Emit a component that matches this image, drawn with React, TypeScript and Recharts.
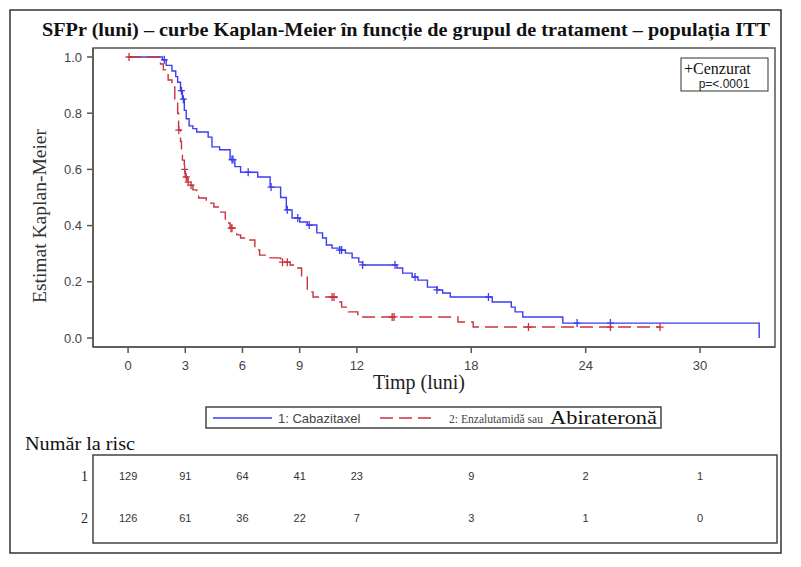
import React from 'react';
import { ComposedChart, Line, Scatter, XAxis, YAxis } from 'recharts';

const xTicks = [0, 3, 6, 9, 12, 18, 24, 30];
const yTicks = [0, 0.2, 0.4, 0.6, 0.8, 1.0];

// Cabazitaxel KM steps (months, survival)
const cabaTimes = [0, 1.8, 2.0, 2.3, 2.5, 2.6, 2.75, 2.85, 2.95, 3.05, 3.2, 3.4, 3.6, 4.2, 4.4, 4.8, 5.35, 5.6, 5.9, 6.8, 7.45, 8.0, 8.3, 8.6, 9.0, 9.4, 9.9, 10.2, 10.4, 10.7, 11.1, 11.4, 11.75, 12.1, 12.3, 14.1, 14.4, 14.9, 15.2, 15.7, 16.2, 16.5, 16.9, 19.1, 20.1, 20.3, 20.7, 22.8, 33.1];
const cabaSurv = [1.0, 0.99, 0.97, 0.95, 0.93, 0.91, 0.88, 0.85, 0.81, 0.78, 0.755, 0.745, 0.733, 0.715, 0.68, 0.67, 0.635, 0.61, 0.59, 0.573, 0.537, 0.5, 0.456, 0.427, 0.413, 0.402, 0.374, 0.356, 0.331, 0.32, 0.313, 0.302, 0.285, 0.27, 0.26, 0.249, 0.231, 0.217, 0.206, 0.181, 0.171, 0.16, 0.146, 0.128, 0.11, 0.093, 0.075, 0.053, 0];
const cabaCensorTimes = [1.9, 2.8, 2.9, 5.45, 5.5, 6.3, 7.5, 8.35, 8.9, 9.5, 11.1, 11.2, 12.3, 14.0, 15.05, 16.2, 18.9, 23.55, 25.3];
const cabaCensorSurv = [0.99, 0.88, 0.85, 0.635, 0.635, 0.59, 0.537, 0.456, 0.427, 0.402, 0.313, 0.313, 0.26, 0.26, 0.217, 0.171, 0.146, 0.053, 0.053];

// Enzalutamida / Abiraterona KM steps
const enzaTimes = [0, 1.7, 1.85, 2.1, 2.3, 2.45, 2.6, 2.65, 2.75, 2.8, 2.85, 2.95, 3.0, 3.1, 3.25, 3.4, 3.6, 3.7, 4.1, 4.5, 4.8, 5.1, 5.35, 5.7, 5.9, 6.3, 6.65, 6.9, 7.45, 8.0, 8.5, 8.9, 9.1, 9.4, 9.7, 10.95, 11.2, 11.55, 12.05, 17.3, 18.1, 27.9];
const enzaSurv = [1.0, 0.975, 0.954, 0.918, 0.893, 0.85, 0.8, 0.74, 0.7, 0.669, 0.633, 0.6, 0.573, 0.555, 0.544, 0.527, 0.51, 0.498, 0.48, 0.466, 0.448, 0.409, 0.391, 0.367, 0.356, 0.349, 0.313, 0.295, 0.285, 0.27, 0.26, 0.249, 0.217, 0.164, 0.146, 0.128, 0.11, 0.093, 0.075, 0.057, 0.039, 0.039];
const enzaCensorTimes = [0.05, 2.66, 2.97, 3.05, 3.15, 3.3, 5.4, 5.45, 8.1, 8.35, 10.7, 10.8, 13.85, 13.95, 21.0, 25.3, 27.9];
const enzaCensorSurv = [1.0, 0.74, 0.6, 0.573, 0.555, 0.544, 0.391, 0.391, 0.27, 0.27, 0.146, 0.146, 0.075, 0.075, 0.039, 0.039, 0.039];

// number at risk
const riskTimes = [0, 3, 6, 9, 12, 18, 24, 30];
const riskCaba = [129, 91, 64, 41, 23, 9, 2, 1];
const riskEnza = [126, 61, 36, 22, 7, 3, 1, 0];

const BLUE = '#3c3cf0';
const RED = '#c8323c';
const SERIF = '"Liberation Serif", "Times New Roman", serif';
const SANS = '"Liberation Sans", Arial, sans-serif';

const cabaData = cabaTimes.map((t, i) => ({ t, s: cabaSurv[i] }));
const enzaData = enzaTimes.map((t, i) => ({ t, s: enzaSurv[i] }));
const cabaCens = cabaCensorTimes.map((t, i) => ({ t, s: cabaCensorSurv[i] }));
const enzaCens = enzaCensorTimes.map((t, i) => ({ t, s: enzaCensorSurv[i] }));

// plot geometry (used for the risk table columns)
const X0 = 93;
const PLOT_W = 682;
const X_DOMAIN: [number, number] = [-1.84, 33.93];
const toPx = (t: number) => X0 + ((t - X_DOMAIN[0]) / (X_DOMAIN[1] - X_DOMAIN[0])) * PLOT_W;

const plus = (color: string) => (props: any) => {
  const { cx, cy } = props;
  if (cx == null || cy == null) return <g />;
  return (
    <path
      d={`M${cx - 3.5},${cy}h7M${cx},${cy - 4}v8`}
      stroke={color}
      strokeWidth={1.3}
      fill="none"
    />
  );
};

export default function App() {
  const axisStroke = '#555';
  const tick = { fill: '#444', fontSize: 13, fontFamily: SANS };
  return (
    <div style={{ position: 'absolute', left: 0, top: 0, width: 801, height: 567, background: '#fff' }}>
      <ComposedChart width={801} height={400} margin={{ top: 48, right: 26, left: 33, bottom: 23 }}>
        <XAxis
          dataKey="t"
          type="number"
          domain={X_DOMAIN}
          allowDataOverflow
          ticks={xTicks}
          interval={0}
          tick={tick}
          tickSize={6}
          tickMargin={8}
          height={30}
          axisLine={{ stroke: axisStroke, strokeWidth: 1.5 }}
          tickLine={{ stroke: axisStroke, strokeWidth: 1.5 }}
        />
        <YAxis
          dataKey="s"
          type="number"
          domain={[-0.032, 1.032]}
          allowDataOverflow
          ticks={yTicks}
          interval={0}
          width={60}
          tick={tick}
          tickSize={6}
          tickMargin={5}
          tickFormatter={(v: number) => v.toFixed(1)}
          axisLine={{ stroke: axisStroke, strokeWidth: 1.5 }}
          tickLine={{ stroke: axisStroke, strokeWidth: 1.5 }}
        />
        <Line
          data={cabaData}
          dataKey="s"
          type="stepAfter"
          stroke={BLUE}
          strokeWidth={1.4}
          dot={false}
          activeDot={false}
          isAnimationActive={false}
        />
        <Line
          data={enzaData}
          dataKey="s"
          type="stepAfter"
          stroke={RED}
          strokeWidth={1.4}
          strokeDasharray="13 6"
          dot={false}
          activeDot={false}
          isAnimationActive={false}
        />
        <Scatter data={cabaCens} dataKey="s" shape={plus(BLUE)} isAnimationActive={false} />
        <Scatter data={enzaCens} dataKey="s" shape={plus(RED)} isAnimationActive={false} />
      </ComposedChart>

      <svg
        width={801}
        height={567}
        style={{ position: 'absolute', left: 0, top: 0, pointerEvents: 'none' }}
      >
        {/* outer frame */}
        <rect x={10} y={10} width={771} height={543} fill="none" stroke="#333" strokeWidth={1.5} />
        <text
          x={406}
          y={36}
          textAnchor="middle"
          fontFamily={SERIF}
          fontWeight="bold"
          fontSize={19}
          fill="#111"
          textLength={728}
          lengthAdjust="spacingAndGlyphs"
        >
          SFPr (luni) – curbe Kaplan-Meier în funcție de grupul de tratament – populația ITT
        </text>

        {/* plot box */}
        <rect x={93} y={48} width={682} height={299} fill="none" stroke={axisStroke} strokeWidth={1.5} />

        {/* censor legend */}
        <rect x={681} y={58} width={87} height={33} fill="#fff" stroke="#333" strokeWidth={1} />
        <text x={684} y={74} fontFamily={SERIF} fontSize={16} fill="#111">+Cenzurat</text>
        <text x={724} y={88} textAnchor="middle" fontFamily={SANS} fontSize={12} fill="#222">p=&lt;.0001</text>

        {/* axis titles */}
        <text
          x={0}
          y={0}
          transform="translate(46,216) rotate(-90)"
          textAnchor="middle"
          fontFamily={SERIF}
          fontSize={19}
          fill="#333"
          textLength={174}
          lengthAdjust="spacingAndGlyphs"
        >
          Estimat Kaplan-Meier
        </text>
        <text
          x={419}
          y={389}
          textAnchor="middle"
          fontFamily={SERIF}
          fontSize={20}
          fill="#222"
          textLength={92}
          lengthAdjust="spacingAndGlyphs"
        >
          Timp (luni)
        </text>

        {/* series legend */}
        <rect x={206} y={407} width={455} height={21} fill="none" stroke="#444" strokeWidth={1.5} />
        <line x1={213} y1={418} x2={272} y2={418} stroke={BLUE} strokeWidth={1.4} />
        <text x={278} y={423} fontFamily={SANS} fontSize={13} fill="#444">1: Cabazitaxel</text>
        <line x1={380} y1={418} x2={437} y2={418} stroke={RED} strokeWidth={1.4} strokeDasharray="13 6" />
        <text
          x={449}
          y={423}
          fontFamily={SERIF}
          fontSize={12.5}
          fill="#444"
          textLength={94}
          lengthAdjust="spacingAndGlyphs"
        >
          2: Enzalutamidă sau
        </text>
        <text
          x={550}
          y={424}
          fontFamily={SERIF}
          fontSize={18}
          fill="#111"
          textLength={107}
          lengthAdjust="spacingAndGlyphs"
        >
          Abirateronă
        </text>

        {/* number at risk */}
        <text
          x={25}
          y={450}
          fontFamily={SERIF}
          fontSize={18}
          fill="#111"
          textLength={110}
          lengthAdjust="spacingAndGlyphs"
        >
          Număr la risc
        </text>
        <rect x={93} y={455} width={684} height={88} fill="none" stroke="#444" strokeWidth={1.5} />
        <text x={88} y={481} textAnchor="end" fontFamily={SERIF} fontSize={14} fill="#222">1</text>
        <text x={88} y={523} textAnchor="end" fontFamily={SERIF} fontSize={14} fill="#222">2</text>
        {riskTimes.map((t, i) => (
          <text key={'a' + t} x={toPx(t)} y={480} textAnchor="middle" fontFamily={SANS} fontSize={11} fill="#333">
            {riskCaba[i]}
          </text>
        ))}
        {riskTimes.map((t, i) => (
          <text key={'b' + t} x={toPx(t)} y={522} textAnchor="middle" fontFamily={SANS} fontSize={11} fill="#333">
            {riskEnza[i]}
          </text>
        ))}
      </svg>
    </div>
  );
}
